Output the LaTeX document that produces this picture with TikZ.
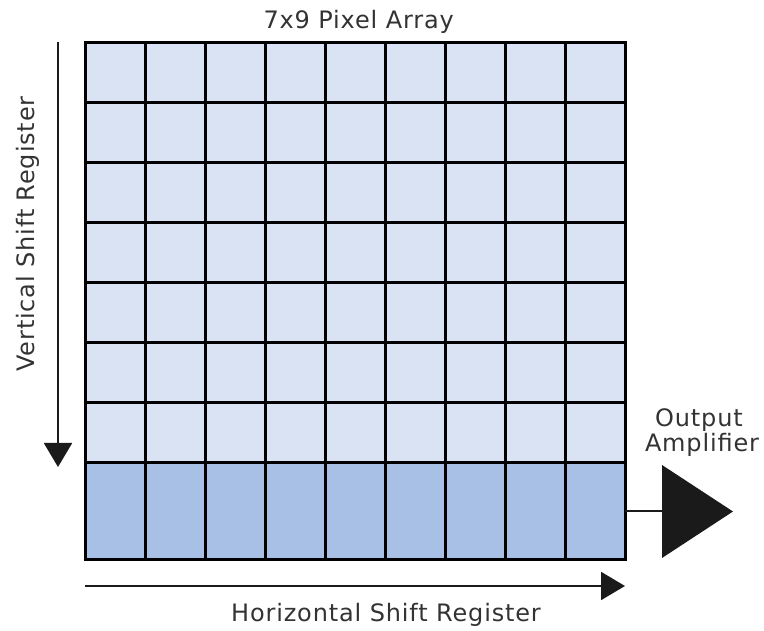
\documentclass[tikz,border=0pt]{standalone}
\usepackage{fontspec}
\setmainfont{DejaVu Sans}[LetterSpace=3.5]
\usetikzlibrary{arrows.meta}
\definecolor{pixelfill}{HTML}{DAE3F3}
\definecolor{regfill}{HTML}{A8C0E6}
\definecolor{labeltext}{HTML}{333333}
\definecolor{ink}{HTML}{1A1A1A}
\begin{document}
\begin{tikzpicture}[x=1pt,y=1pt,
  pixel/.style={draw=black,line width=3pt,fill=pixelfill,minimum width=60pt,minimum height=60pt,inner sep=0pt,outer sep=0pt},
  regcell/.style={draw=black,line width=3pt,fill=regfill,minimum width=60pt,minimum height=97pt,inner sep=0pt,outer sep=0pt},
  shiftarrow/.style={draw=ink,line width=2pt,-{Triangle[length=24pt,width=28pt]}},
  lbl/.style={text=labeltext,font=\fontsize{24}{28}\selectfont,inner sep=0pt,anchor=base}]
\useasboundingbox (0,0) rectangle (764,630);
% pixel array: 7 rows of 9 cells
\foreach \r in {1,...,7}{
  \foreach \c in {1,...,9}{
    \node[pixel] (p-\r-\c) at ({85+60*\c-30},{587-60*\r+30}) {};
  }
}
% horizontal shift register row
\foreach \c in {1,...,9}{
  \node[regcell] (h-\c) at ({85+60*\c-30},118.5) {};
}
% redraw outer frame so the corners stay crisp
\draw[line width=3pt] (p-1-1.north west) rectangle (h-9.south east);
% labels
\node[lbl] (title) at (358.7,601.7) {7x9 Pixel Array};
\node[lbl,rotate=90] (vlabel) at (35,396) {Vertical Shift Register};
\node[lbl] (hlabel) at (386,8.3) {Horizontal Shift Register};
\node[lbl] (amplabel1) at (699,203) {Output};
\node[lbl] (amplabel2) at (702,178.3) {Amplifier};
% shift arrows
\coordinate (vstart) at (58,588);
\coordinate (vend) at (58,163);
\draw[shiftarrow] (vstart) -- (vend);
\coordinate (hstart) at (85,44);
\coordinate (hend) at (625,44);
\draw[shiftarrow] (hstart) -- (hend);
% output amplifier
\coordinate (ampin) at (662,118.5);
\coordinate (amptop) at (662,165);
\coordinate (ampbot) at (662,72);
\coordinate (amptip) at (733,118.5);
\fill[ink] (amptop) -- (amptip) -- (ampbot) -- cycle;
\draw[ink,line width=2pt] (h-9.east) -- (ampin);
\end{tikzpicture}
\end{document}
